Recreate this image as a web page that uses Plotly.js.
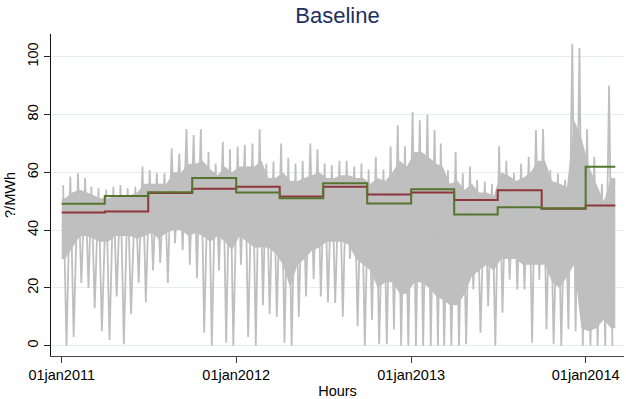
<!DOCTYPE html>
<html>
<head>
<meta charset="utf-8">
<script src="https://cdn.plot.ly/plotly-3.0.1.min.js"></script>
<style>
  html, body { margin: 0; padding: 0; background: #ffffff; }
  #chart { width: 626px; height: 399px; }
</style>
</head>
<body>
<div id="chart"></div>
<script>
// Hourly price summarised per half-month (bins start on the 1st and 16th, Jan 2011 - Feb 2014):
// highest spike, top of the dense band, bottom of the dense band, deepest dip.
const priceHigh = [
  55.6, 58.5, 59.7, 58, 55, 54.5, 54, 55, 55.6, 54.5, 55, 62, 60.8, 59.7, 59.7, 68.3, 66.5, 75, 72.9, 75, 67, 63, 70.6, 68,
  68.9, 69.5, 70, 75, 63, 63.7, 70, 65, 63, 64, 70, 68, 63, 62.5, 64, 64, 62, 63, 61, 65.4, 61, 68.9, 76.3, 69,
  80.9, 78, 79.8, 74.6, 70, 60.8, 67, 59.7, 62, 57.4, 56.8, 56, 69, 64, 59.7, 63, 65.4, 74.6, 75, 60.8, 59.7, 57.4, 104.5, 103,
  75, 65.4, 56, 90
];
const coreHigh = [
  51, 53, 54, 53, 52, 51, 51, 52, 52, 52, 53, 56, 56, 56, 56, 60, 60, 63, 63, 64, 61, 59, 62, 60,
  62, 62, 62, 64, 58, 58, 60, 57, 57, 58, 59, 60, 58, 58, 59, 59, 58, 58, 56, 58, 57, 60, 64, 62,
  67, 67, 65, 63, 62, 56, 57, 54, 56, 53, 53, 52, 60, 59, 57, 58, 60, 64, 64, 57, 56, 55, 78, 72,
  62, 56, 50, 58
];
const coreLow = [
  30, 34, 38, 38, 37, 36, 36, 38, 38, 38, 37, 38, 39, 37, 39, 40, 40, 38, 39, 38, 36, 38, 36, 33,
  38, 36, 34, 34, 34, 32, 28, 20, 28, 30, 33, 34, 36, 36, 36, 35, 30, 28, 26, 20, 22, 22, 18, 18,
  22, 22, 20, 17, 16, 14, 14, 18, 24, 26, 28, 26, 30, 30, 30, 28, 28, 28, 28, 22, 20, 24, 28, 6,
  5, 6, 9, 6
];
const priceLow = [
  0, 3, 21.7, 20, 13, 5, 2, 17, 0.5, 11, 21.7, 15, 26, 28.6, 21.7, 35.5, 33, 28, 23.4, 4.5, 0, 26, 1, 0,
  28, 3, 0, 14, 11, 10, 1, 0, 10, 17, 23, 17, 15, 14.8, 10, 30, 6.8, 0, 9, 0.5, 0.5, 5.6, 0, 0,
  0, 0, 0, 0, 0, 0, 0, 0.5, 19.5, 4.5, 13.7, 0, 11.4, 22.8, 19.5, 19.5, 1, 22.8, 5.7, 0.5, 0, 5.7, 5, 0,
  0, 0, 0, 0
];

// Quarterly average levels (step series)
const quarterStarts = [
  '2011-01-01', '2011-04-01', '2011-07-01', '2011-10-01',
  '2012-01-01', '2012-04-01', '2012-07-01', '2012-10-01',
  '2013-01-01', '2013-04-01', '2013-07-01', '2013-10-01',
  '2014-01-01'
];
const seriesStart = '2011-01-01';
const seriesEnd = '2014-03-04';
const redLevels   = [46.1, 46.4, 52.8, 54.3, 55.0, 51.6, 55.0, 52.3, 53.0, 50.4, 53.8, 47.4, 48.5];
const greenLevels = [49.1, 51.8, 53.1, 58.0, 53.0, 51.0, 56.2, 49.2, 54.1, 45.4, 47.9, 47.6, 61.9];

// Axis ticks
const xTickVals = ['2011-01-01', '2012-01-01', '2013-01-01', '2014-01-01'];
const xTickText = ['01jan2011', '01jan2012', '01jan2013', '01jan2014'];
const yTickVals = [0, 20, 40, 60, 80, 100];

// ---- helpers ----
function dayShift(iso, days) {
  const d = new Date(iso.slice(0, 10) + 'T00:00:00Z');
  d.setTime(d.getTime() + days * 86400000);
  return d.toISOString().slice(0, 16).replace('T', ' ');
}

// half-month bin start dates
const binStarts = [];
for (let y = 2011; binStarts.length < priceHigh.length; y++) {
  for (let m = 1; m <= 12 && binStarts.length < priceHigh.length; m++) {
    const mm = String(m).padStart(2, '0');
    binStarts.push(y + '-' + mm + '-01');
    if (binStarts.length < priceHigh.length) binStarts.push(y + '-' + mm + '-16');
  }
}
const last = binStarts.length - 1;

// dense band polygon (runs from the first to the last hour of the series)
const bandX = [seriesStart], bandY = [coreHigh[0]];
binStarts.forEach((d, i) => { bandX.push(dayShift(d, 7)); bandY.push(coreHigh[i]); });
bandX.push(seriesEnd); bandY.push(coreHigh[last]);
bandX.push(seriesEnd); bandY.push(coreLow[last]);
for (let i = last; i >= 0; i--) { bandX.push(dayShift(binStarts[i], 7)); bandY.push(coreLow[i]); }
bandX.push(seriesStart); bandY.push(coreLow[0]);

// spikes: alternate between each bin's peak and dip
const spikeX = [], spikeY = [];
binStarts.forEach((d, i) => {
  spikeX.push(dayShift(d, 3));  spikeY.push(priceHigh[i]);
  spikeX.push(dayShift(d, 10)); spikeY.push(priceLow[i]);
});

const gray = '#bfbfbf';
const traces = [
  { x: bandX, y: bandY, type: 'scatter', mode: 'lines', fill: 'toself',
    fillcolor: gray, line: { width: 0, color: gray }, hoverinfo: 'skip' },
  { x: spikeX, y: spikeY, type: 'scatter', mode: 'lines',
    line: { width: 1.8, color: gray }, hoverinfo: 'skip' },
  { x: quarterStarts.concat([seriesEnd]), y: redLevels.concat([redLevels[redLevels.length - 1]]),
    type: 'scatter', mode: 'lines', line: { shape: 'hv', width: 2, color: '#90353b' } },
  { x: quarterStarts.concat([seriesEnd]), y: greenLevels.concat([greenLevels[greenLevels.length - 1]]),
    type: 'scatter', mode: 'lines', line: { shape: 'hv', width: 2, color: '#55752f' } }
];

const layout = {
  width: 626, height: 399,
  margin: { l: 51, r: 2, t: 34, b: 43 },
  paper_bgcolor: '#ffffff', plot_bgcolor: '#ffffff',
  showlegend: false,
  font: { family: 'Liberation Sans, Arial, sans-serif', size: 14.5, color: '#000000' },
  title: {
    text: 'Baseline',
    font: { family: 'Liberation Sans, Arial, sans-serif', size: 22, color: '#1e2f5e' },
    x: 0.5, xref: 'paper', xanchor: 'center',
    y: 0.962, yref: 'container', yanchor: 'middle'
  },
  xaxis: {
    type: 'date',
    range: ['2010-12-09 14:00', '2014-03-22 05:00'],
    tickmode: 'array', tickvals: xTickVals, ticktext: xTickText,
    ticks: 'outside', ticklen: 6, tickwidth: 1, tickcolor: '#333333',
    showline: true, linecolor: '#444444', linewidth: 1,
    showgrid: false, zeroline: false,
    tickfont: { size: 14.5, color: '#000000' },
    title: { text: 'Hours', font: { size: 14.5, color: '#000000' }, standoff: 4 }
  },
  yaxis: {
    range: [-3.56, 107.85],
    tickmode: 'array', tickvals: yTickVals,
    tickangle: -90,
    ticks: 'outside', ticklen: 6, tickwidth: 1, tickcolor: '#222222',
    showline: true, linecolor: '#111111', linewidth: 1,
    showgrid: true, gridcolor: '#e4eef0', gridwidth: 1,
    zeroline: false,
    tickfont: { size: 14.5, color: '#000000' },
    title: { text: '?/MWh', font: { size: 14.5, color: '#000000' }, standoff: 6 }
  }
};

Plotly.newPlot('chart', traces, layout, { displayModeBar: false, staticPlot: true });
</script>
</body>
</html>
